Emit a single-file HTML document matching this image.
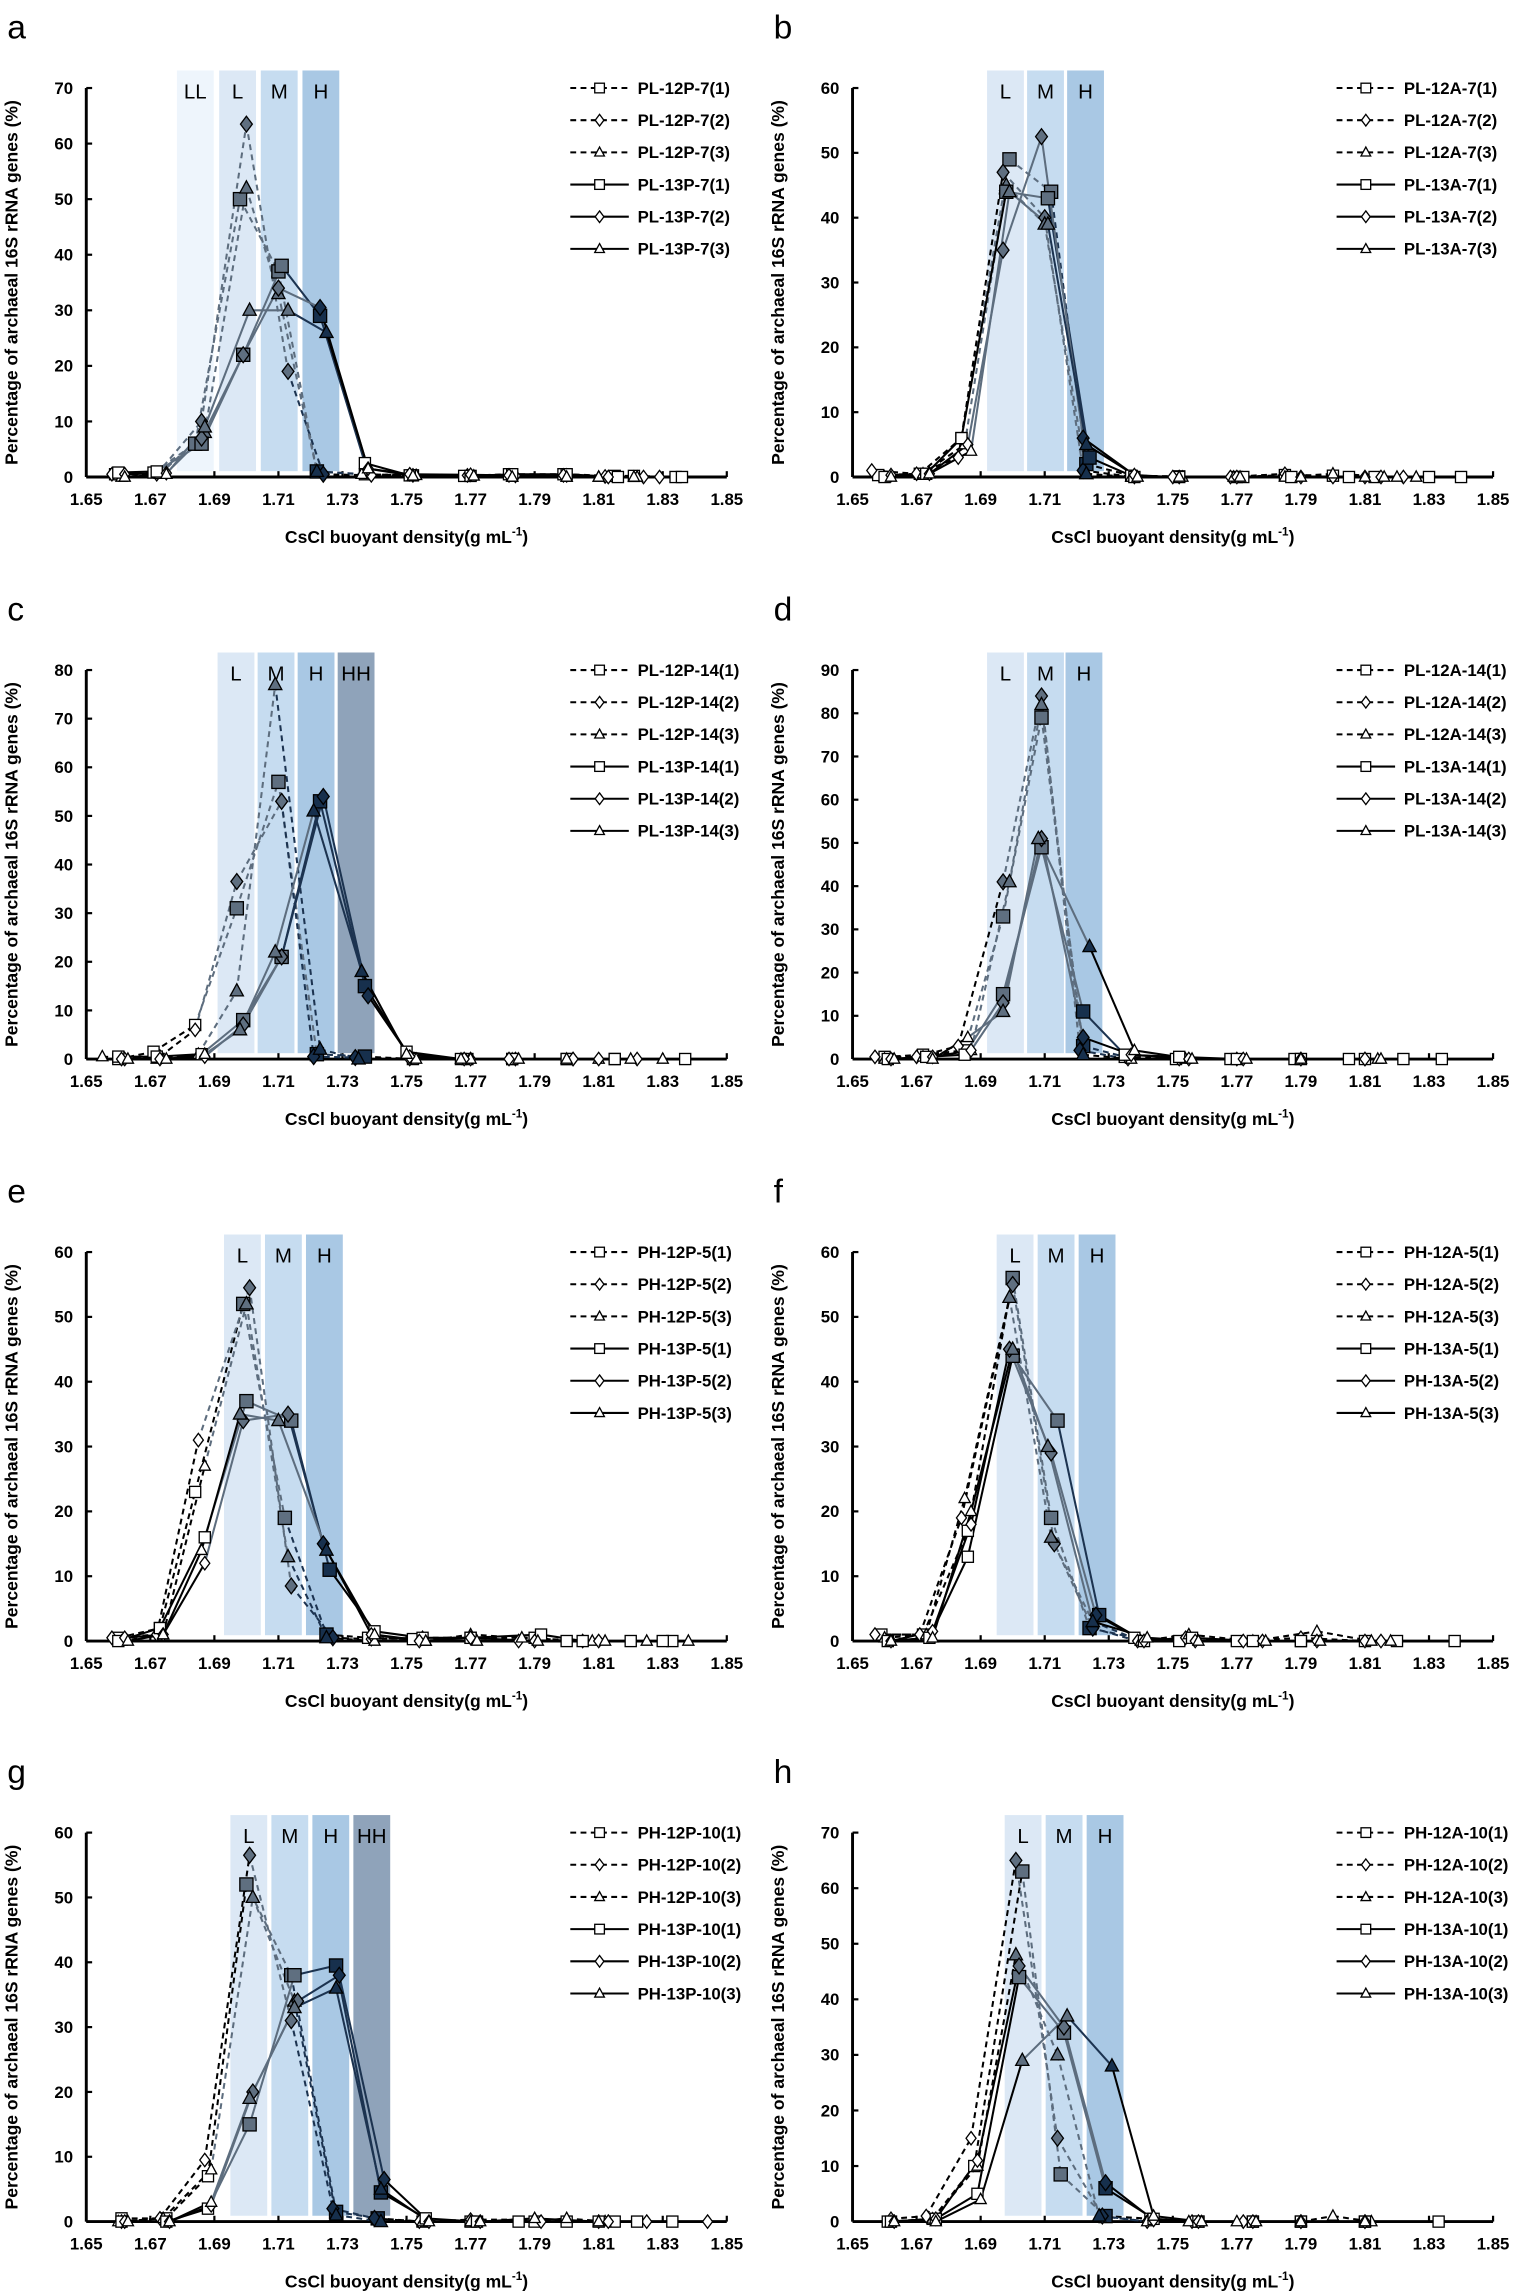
<!DOCTYPE html>
<html><head><meta charset="utf-8">
<style>
html,body{margin:0;padding:0;background:#fff;}
svg{display:block;}
text{font-family:"Liberation Sans",sans-serif;}
</style></head>
<body>
<svg id="s" width="1515" height="2295" viewBox="0 0 1036 1569" xmlns="http://www.w3.org/2000/svg"></svg>
<script>
const S=document.getElementById('s');let out='';
const P=[
{L:'a',ox:59,y0:326,top:172-112,max:70,lg:'PL-%P-7',t:['12','13'],bands:[[1.6783,'LL','#eef5fc'],[1.6915,'L','#dce8f5'],[1.7045,'M','#c6dcf0'],[1.7175,'H','#a9c8e4']],
d:[
[[1.659,0.5],[1.671,0.8],[1.684,6],[1.698,50],[1.710,37],[1.722,1],[1.737,0.5],[1.752,0.3],[1.768,0.2],[1.782,0.5],[1.799,0.5],[1.815,0.2],[1.821,0.2],[1.834,0]],
[[1.658,0.5],[1.672,0.5],[1.686,10],[1.700,63.5],[1.713,19],[1.724,0.5],[1.739,0.3],[1.752,0.3],[1.769,0.3],[1.784,0.2],[1.800,0.3],[1.812,0.1],[1.824,0]],
[[1.661,0],[1.673,0.5],[1.687,8],[1.700,52],[1.710,33],[1.722,1],[1.736,0.5],[1.753,0.3],[1.770,0.2],[1.783,0],[1.800,0],[1.810,0],[1.822,0]],
[[1.66,0.8],[1.672,1],[1.686,6],[1.699,22],[1.711,38],[1.723,29],[1.737,2.5],[1.751,0.3],[1.770,0.2],[1.783,0.5],[1.8,0.5],[1.816,0],[1.836,0]],
[[1.662,0.5],[1.675,0.7],[1.686,7],[1.699,22],[1.71,34],[1.723,30.5],[1.738,1.5],[1.751,0.5],[1.77,0.4],[1.782,0.3],[1.799,0.3],[1.813,0],[1.829,0]],
[[1.662,0],[1.675,0.5],[1.687,9],[1.701,30],[1.713,30],[1.725,26],[1.738,1.5],[1.752,0.2],[1.771,0.2],[1.783,0],[1.8,0],[1.81,0],[1.821,0]]]},
{L:'b',ox:583,y0:326,max:60,lg:'PL-%A-7',bands:[[1.692,'L','#dce8f5'],[1.7045,'M','#c6dcf0'],[1.717,'H','#a9c8e4']],
d:[
[[1.658,0.3],[1.671,0.5],[1.684,6],[1.699,49],[1.712,44],[1.723,2],[1.737,0.2],[1.752,0.1],[1.77,0],[1.785,0.3],[1.8,0.2],[1.813,0],[1.83,0]],
[[1.656,1],[1.67,0.5],[1.683,3],[1.697,47],[1.71,40],[1.722,1],[1.738,0],[1.752,0],[1.768,0],[1.785,0.5],[1.80,0],[1.815,0],[1.822,0]],
[[1.66,0],[1.672,0.5],[1.685,5],[1.698,45],[1.71,39],[1.723,0.5],[1.737,0],[1.753,0],[1.769,0],[1.785,0],[1.8,0.5],[1.82,0],[1.826,0]],
[[1.66,0],[1.673,0.5],[1.684,6],[1.698,44],[1.711,43],[1.724,3],[1.738,0],[1.752,0],[1.772,0],[1.787,0],[1.805,0],[1.84,0]],
[[1.662,0.3],[1.674,0.5],[1.686,5],[1.697,35],[1.709,52.5],[1.722,6],[1.738,0.3],[1.75,0],[1.77,0],[1.79,0],[1.81,0]],
[[1.662,0],[1.674,0.5],[1.687,4],[1.699,44],[1.711,39],[1.723,5],[1.739,0],[1.752,0],[1.771,0],[1.79,0],[1.81,0],[1.816,0]]]},
{L:'c',ox:59,y0:724,max:80,lg:'PL-%P-14',bands:[[1.691,'L','#dce8f5'],[1.7035,'M','#c6dcf0'],[1.716,'H','#a9c8e4'],[1.7285,'HH','#8fa3ba']],
d:[
[[1.66,0],[1.671,1.5],[1.684,7],[1.697,31],[1.71,57],[1.722,1],[1.737,0.5],[1.752,0],[1.769,0],[1.783,0],[1.8,0],[1.815,0],[1.837,0]],
[[1.662,0],[1.673,0.5],[1.684,6],[1.697,36.5],[1.711,53],[1.721,0.5],[1.734,0.3],[1.751,0],[1.77,0],[1.784,0],[1.802,0],[1.822,0]],
[[1.655,0.5],[1.672,0],[1.685,1],[1.697,14],[1.709,77],[1.723,2],[1.735,0],[1.753,0],[1.77,0],[1.783,0],[1.81,0],[1.83,0]],
[[1.66,0.5],[1.672,0.5],[1.686,1],[1.699,8],[1.711,21],[1.723,53],[1.737,15],[1.750,1.5],[1.767,0],[1.783,0],[1.8,0],[1.815,0]],
[[1.661,0],[1.673,0],[1.687,0.5],[1.699,7],[1.711,21],[1.724,54],[1.738,13],[1.751,0.5],[1.768,0],[1.782,0],[1.802,0],[1.81,0]],
[[1.663,0],[1.675,0],[1.687,1],[1.698,6],[1.709,22],[1.721,51],[1.736,18],[1.75,1],[1.767,0],[1.785,0],[1.8,0],[1.82,0]]]},
{L:'d',ox:583,y0:724,max:90,lg:'PL-%A-14',bands:[[1.692,'L','#dce8f5'],[1.7045,'M','#c6dcf0'],[1.7165,'H','#a9c8e4']],
d:[
[[1.66,0.5],[1.672,1],[1.685,2],[1.697,33],[1.709,79],[1.722,3],[1.735,0.5],[1.751,0],[1.768,0],[1.788,0],[1.805,0],[1.822,0]],
[[1.657,0.5],[1.67,0.5],[1.683,3],[1.697,41],[1.709,84],[1.721,2],[1.736,0],[1.752,0],[1.77,0],[1.79,0],[1.81,0]],
[[1.66,0],[1.672,0.5],[1.687,2],[1.699,41],[1.709,82],[1.722,1],[1.737,0],[1.754,0],[1.77,0],[1.79,0],[1.814,0]],
[[1.661,0],[1.673,0.5],[1.685,1],[1.697,15],[1.709,49],[1.722,11],[1.735,1],[1.752,0.5],[1.77,0],[1.79,0],[1.81,0],[1.834,0]],
[[1.662,0],[1.675,0.5],[1.687,2],[1.697,13],[1.709,51],[1.722,5],[1.737,1],[1.755,0],[1.772,0],[1.79,0],[1.81,0]],
[[1.663,0],[1.675,0],[1.686,5],[1.697,11],[1.708,51],[1.724,26],[1.738,2],[1.756,0],[1.773,0],[1.79,0],[1.815,0]]]},
{L:'e',ox:59,y0:1122,max:60,lg:'PH-%P-5',bands:[[1.693,'L','#dce8f5'],[1.7058,'M','#c6dcf0'],[1.7186,'H','#a9c8e4']],
d:[
[[1.66,0.5],[1.673,2],[1.684,23],[1.699,52],[1.712,19],[1.725,1],[1.738,0.5],[1.752,0.3],[1.77,0.5],[1.79,0.5],[1.80,0],[1.82,0],[1.833,0]],
[[1.658,0.5],[1.672,1],[1.685,31],[1.701,54.5],[1.714,8.5],[1.727,0.5],[1.739,0.3],[1.755,0.5],[1.77,0.5],[1.785,0],[1.805,0]],
[[1.661,0],[1.674,1],[1.687,27],[1.700,52],[1.713,13],[1.725,0.5],[1.74,0],[1.756,0],[1.77,1],[1.786,0.5],[1.808,0],[1.825,0]],
[[1.66,0],[1.673,2],[1.687,16],[1.700,37],[1.714,34],[1.726,11],[1.74,1.5],[1.755,0.5],[1.77,0.5],[1.792,1],[1.805,0],[1.83,0]],
[[1.662,0.5],[1.674,1],[1.687,12],[1.699,34],[1.713,35],[1.724,15],[1.739,1],[1.754,0],[1.77,0.5],[1.79,0],[1.81,0]],
[[1.663,0],[1.674,1],[1.686,14],[1.698,35],[1.71,34],[1.725,14],[1.74,1],[1.756,0],[1.772,0],[1.791,0],[1.812,0],[1.838,0]]]},
{L:'f',ox:583,y0:1122,max:60,lg:'PH-%A-5',bands:[[1.695,'L','#dce8f5'],[1.7078,'M','#c6dcf0'],[1.7206,'H','#a9c8e4']],
d:[
[[1.659,1],[1.672,1],[1.686,17],[1.700,56],[1.712,19],[1.724,2],[1.738,0.5],[1.752,0],[1.77,0],[1.79,0],[1.81,0]],
[[1.657,1],[1.671,1],[1.684,19],[1.700,55],[1.713,15],[1.725,2],[1.739,0],[1.754,0.5],[1.772,0],[1.79,0.5],[1.81,0]],
[[1.66,0.5],[1.673,1],[1.685,22],[1.699,53],[1.712,16],[1.725,3],[1.74,0],[1.755,1],[1.775,0],[1.795,1.5],[1.812,0]],
[[1.661,0],[1.674,0.5],[1.686,13],[1.700,44],[1.714,34],[1.727,4],[1.741,0],[1.756,0.5],[1.775,0],[1.79,0],[1.82,0],[1.838,0]],
[[1.662,0],[1.675,1.5],[1.687,18],[1.699,45],[1.712,29],[1.726,4],[1.741,0],[1.757,0],[1.778,0],[1.795,0],[1.815,0]],
[[1.662,0],[1.675,0.5],[1.687,20],[1.700,45],[1.711,30],[1.725,3],[1.742,0.5],[1.758,0],[1.779,0],[1.796,0],[1.818,0]]]},
{L:'g',ox:59,y0:1519,max:60,lg:'PH-%P-10',bands:[[1.695,'L','#dce8f5'],[1.7078,'M','#c6dcf0'],[1.7206,'H','#a9c8e4'],[1.7334,'HH','#8fa3ba']],
d:[
[[1.661,0.5],[1.675,0.5],[1.688,7],[1.700,52],[1.714,38],[1.728,1.5],[1.741,0.5],[1.755,0],[1.77,0],[1.785,0],[1.80,0],[1.815,0],[1.833,0]],
[[1.661,0],[1.673,0.5],[1.687,9.5],[1.701,56.5],[1.714,31],[1.727,2],[1.74,0.5],[1.754,0],[1.77,0.3],[1.79,0.3],[1.81,0],[1.825,0],[1.844,0]],
[[1.66,0],[1.674,0.5],[1.689,8],[1.702,50],[1.715,34],[1.728,1],[1.742,0],[1.755,0],[1.77,0],[1.79,0],[1.80,0.5],[1.812,0]],
[[1.661,0],[1.675,0],[1.688,2],[1.701,15],[1.715,38],[1.728,39.5],[1.742,4.5],[1.756,0.5],[1.772,0],[1.79,0],[1.81,0],[1.822,0]],
[[1.662,0],[1.676,0],[1.689,2.5],[1.702,20],[1.716,34],[1.729,38],[1.743,6.5],[1.757,0],[1.773,0],[1.792,0],[1.813,0]],
[[1.663,0],[1.676,0],[1.689,3],[1.701,19],[1.715,33],[1.728,36],[1.742,5],[1.757,0],[1.773,0],[1.79,0.5],[1.81,0]]]},
{L:'h',ox:583,y0:1519,max:70,lg:'PH-%A-10',bands:[[1.6975,'L','#dce8f5'],[1.7103,'M','#c6dcf0'],[1.7231,'H','#a9c8e4']],
d:[
[[1.661,0],[1.675,0.5],[1.688,10],[1.703,63],[1.715,8.5],[1.729,1],[1.743,0.5],[1.758,0],[1.775,0],[1.79,0],[1.81,0],[1.833,0]],
[[1.662,0.5],[1.673,1],[1.687,15],[1.701,65],[1.714,15],[1.728,1],[1.742,0],[1.756,0],[1.772,0],[1.79,0],[1.81,0]],
[[1.662,0],[1.675,0.5],[1.689,10],[1.701,48],[1.714,30],[1.727,1],[1.742,0],[1.755,0],[1.77,0],[1.79,0],[1.80,1],[1.812,0]],
[[1.662,0],[1.676,0.5],[1.689,5],[1.702,44],[1.716,34],[1.729,6],[1.744,0.5],[1.758,0],[1.775,0],[1.79,0],[1.81,0]],
[[1.663,0],[1.676,0.5],[1.689,11],[1.702,46],[1.716,35],[1.729,7],[1.744,0.3],[1.758,0],[1.775,0],[1.79,0],[1.81,0]],
[[1.663,0],[1.676,0],[1.690,4],[1.703,29],[1.717,37],[1.731,28],[1.744,1],[1.759,0],[1.776,0],[1.79,0],[1.81,0]]]}
];
const BW=0.0115;
function mk(type,x,y,r,fill){
  if(type==0) return `<rect x="${x-r}" y="${y-r}" width="${2*r}" height="${2*r}" fill="${fill}" stroke="#000" stroke-width="0.9"/>`;
  if(type==1) return `<polygon points="${x},${y-r*1.2} ${x+r*0.9},${y} ${x},${y+r*1.2} ${x-r*0.9},${y}" fill="${fill}" stroke="#000" stroke-width="0.9"/>`;
  return `<polygon points="${x},${y-r*1.1} ${x+r},${y+r*0.75} ${x-r},${y+r*0.75}" fill="${fill}" stroke="#000" stroke-width="0.9"/>`;
}
P.forEach(p=>{
  const ox=p.ox,y0=p.y0,yt=y0-266,W=438;
  const X=d=>ox+(d-1.65)/0.2*W, Y=v=>y0-v/p.max*266;
  const lx=ox-54;
  out+=`<text x="${ox-54}" y="${y0-300}" font-size="23">${p.L}</text>`;
  // bands
  p.bands.forEach(b=>{const x1=X(b[0]),x2=X(b[0]+BW);
    out+=`<rect x="${x1}" y="${yt-12}" width="${x2-x1}" height="${y0-yt+8}" fill="${b[2]}"/>`;
    out+=`<text x="${(x1+x2)/2}" y="${yt+7}" font-size="14" text-anchor="middle">${b[1]}</text>`;});
  const zone=d=>{for(const b of p.bands){if(d>=b[0]-0.001&&d<=b[0]+BW+0.001) return b[1];}return null;};
  const lcol=z=>!z?'#000':(z=='H'||z=='HH')?'#1c3350':'#5d6d7e';
  const fcol=z=>!z?'#fff':(z=='H'||z=='HH')?'#17304d':'#5f6f80';
  // axes
  out+=`<line x1="${ox}" y1="${yt}" x2="${ox}" y2="${y0}" stroke="#000" stroke-width="2"/>`;
  out+=`<line x1="${ox}" y1="${y0}" x2="${ox+W}" y2="${y0}" stroke="#000" stroke-width="2"/>`;
  const nt=p.max/10;
  for(let i=0;i<=nt;i++){const y=Y(i*10);
    out+=`<line x1="${ox}" y1="${y}" x2="${ox+4}" y2="${y}" stroke="#000" stroke-width="1.5"/>`;
    out+=`<text x="${ox-9}" y="${y+4}" font-size="11.5" font-weight="bold" text-anchor="end">${i*10}</text>`;}
  for(let i=0;i<=10;i++){const x=ox+i*W/10;
    out+=`<line x1="${x}" y1="${y0}" x2="${x}" y2="${y0-4}" stroke="#000" stroke-width="1.5"/>`;
    out+=`<text x="${x}" y="${y0+19}" font-size="11.5" font-weight="bold" text-anchor="middle">${(1.65+i*0.02).toFixed(2)}</text>`;}
  out+=`<text x="${ox+W/2}" y="${y0+45}" font-size="12" font-weight="bold" text-anchor="middle">CsCl buoyant density(g mL<tspan dy="-5" font-size="8">-1</tspan><tspan dy="5">)</tspan></text>`;
  out+=`<text transform="translate(${ox-47},${y0-133}) rotate(-90)" font-size="12" font-weight="bold" text-anchor="middle">Percentage of archaeal 16S rRNA genes (%)</text>`;
  // series
  p.d.forEach((s,si)=>{
    const dash=si<3?'4,3':'none';
    for(let i=0;i<s.length-1;i++){const a=s[i],b=s[i+1];const z=zone((a[0]+b[0])/2);
      out+=`<line x1="${X(a[0])}" y1="${Y(a[1])}" x2="${X(b[0])}" y2="${Y(b[1])}" stroke="${lcol(z)}" stroke-width="1.4" stroke-dasharray="${dash}"/>`;}
  });
  p.d.forEach((s,si)=>{
    s.forEach(pt=>{const z=zone(pt[0]);out+=mk(si%3,X(pt[0]),Y(pt[1]),z?4.5:3.8,fcol(z));});
  });
  // legend
  const lgx=ox+331;
  for(let i=0;i<6;i++){const y=y0-266+22*i;
    const name=p.lg.replace('%',i<3?'12':'13')+'('+(i%3+1)+')';
    out+=`<line x1="${lgx}" y1="${y}" x2="${lgx+40}" y2="${y}" stroke="#000" stroke-width="1.4" stroke-dasharray="${i<3?'4,3':'none'}"/>`;
    out+=mk(i%3,lgx+20,y,3.3,'#fff');
    out+=`<text x="${lgx+46}" y="${y+4}" font-size="11.5" font-weight="bold">${name}</text>`;}
});
S.innerHTML=out;
</script>
</body></html>
